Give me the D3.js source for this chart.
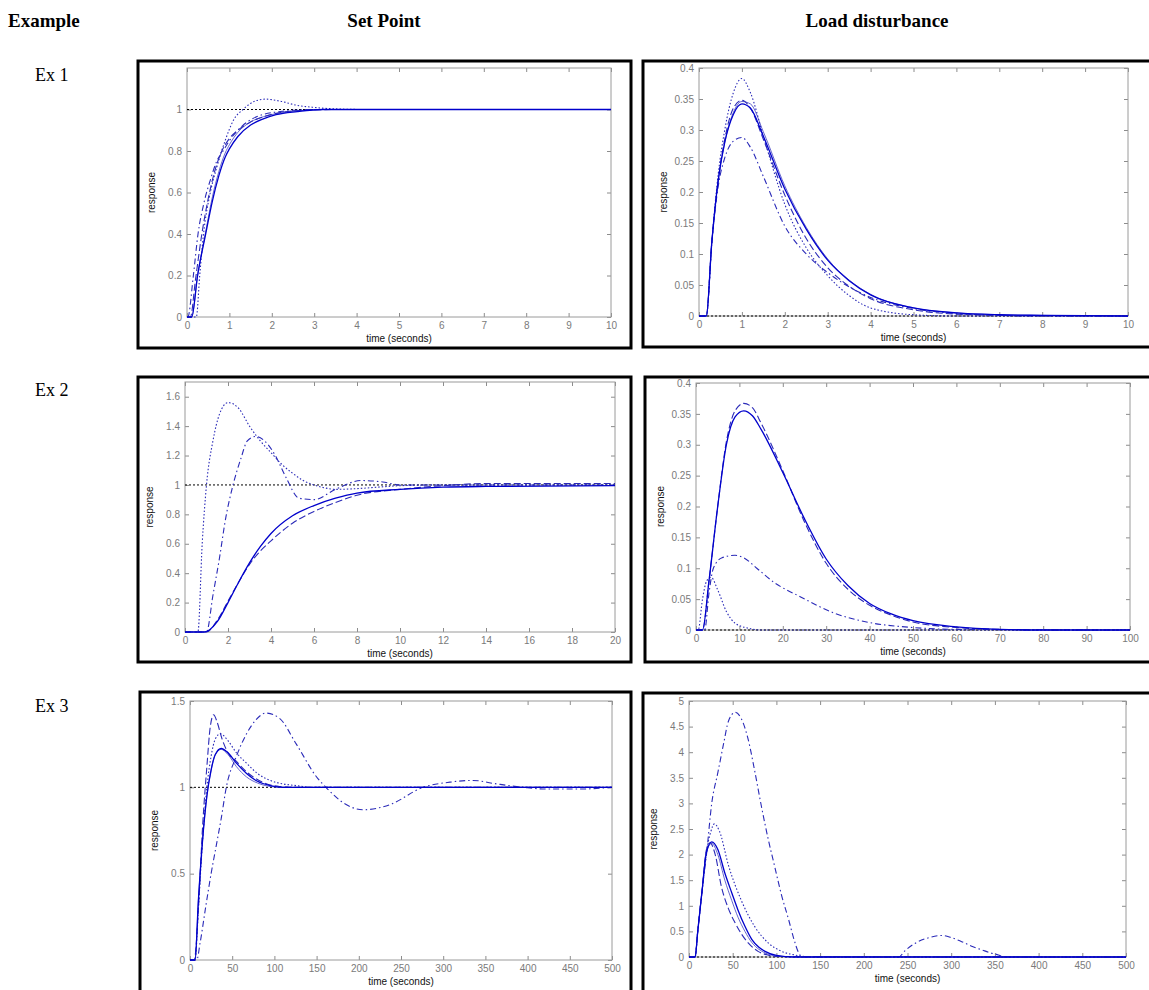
<!DOCTYPE html>
<html>
<head>
<meta charset="utf-8">
<script src="https://cdn.jsdelivr.net/npm/d3@7"></script>
<style>
  body { margin: 0; background: #fff; }
  svg { display: block; }
</style>
</head>
<body>
<div id="chart"></div>
<script>
// ---- data ----
var rowLabels = ["Ex 1", "Ex 2", "Ex 3"];
var colLabels = ["Set Point", "Load disturbance"];

// Ex 1, set point
var e1sSolidT = [0, 0.11, 0.25, 0.44, 0.6, 0.75, 0.9, 1.0, 1.2, 1.5, 1.8, 2.1, 2.6, 3.2, 4, 10];
var e1sSolidY = [0, 0, 0.2, 0.4, 0.56, 0.68, 0.77, 0.81, 0.87, 0.925, 0.955, 0.975, 0.99, 1, 1, 1];
var e1sThinY  = [0, 0, 0.2, 0.41, 0.58, 0.7, 0.79, 0.83, 0.89, 0.94, 0.965, 0.98, 0.993, 1, 1, 1];
var e1sDashT  = [0, 0.08, 0.2, 0.35, 0.5, 0.65, 0.8, 1.0, 1.2, 1.5, 1.8, 2.2, 2.8, 3.5, 10];
var e1sDashY  = [0, 0, 0.18, 0.4, 0.57, 0.7, 0.79, 0.86, 0.9, 0.94, 0.965, 0.985, 0.997, 1, 1];
var e1sDdT    = [0, 0.02, 0.15, 0.26, 0.4, 0.55, 0.7, 0.85, 1.0, 1.3, 1.64, 2.2, 3, 10];
var e1sDdY    = [0, 0, 0.2, 0.4, 0.55, 0.66, 0.75, 0.8, 0.85, 0.92, 0.965, 0.99, 1, 1];
var e1sDotT   = [0, 0.22, 0.3, 0.39, 0.55, 0.7, 0.9, 1.1, 1.32, 1.6, 1.85, 2.2, 2.6, 3, 3.5, 4.2, 10];
var e1sDotY   = [0, 0, 0.2, 0.4, 0.6, 0.72, 0.85, 0.95, 1.0, 1.04, 1.05, 1.04, 1.02, 1.01, 1.003, 1, 1];

// Ex 1, load disturbance
var e1lT      = [0, 0.17, 0.3, 0.45, 0.6, 0.8, 1.0, 1.2, 1.5, 2.0, 2.5, 3.0, 3.5, 4.0, 5, 6, 7, 8, 10];
var e1lSolidY = [0, 0, 0.12, 0.22, 0.28, 0.325, 0.342, 0.335, 0.29, 0.205, 0.14, 0.09, 0.057, 0.034, 0.013, 0.005, 0.002, 0.001, 0];
var e1lThinY  = [0, 0, 0.12, 0.22, 0.28, 0.328, 0.346, 0.342, 0.297, 0.21, 0.143, 0.092, 0.058, 0.035, 0.013, 0.005, 0.002, 0.001, 0];
var e1lDashY  = [0, 0, 0.12, 0.22, 0.285, 0.335, 0.348, 0.335, 0.285, 0.195, 0.125, 0.078, 0.048, 0.028, 0.01, 0.003, 0.001, 0, 0];
var e1lDdY    = [0, 0, 0.12, 0.21, 0.255, 0.282, 0.288, 0.272, 0.225, 0.145, 0.1, 0.07, 0.047, 0.03, 0.012, 0.004, 0.001, 0, 0];
var e1lDotY   = [0, 0, 0.12, 0.23, 0.3, 0.36, 0.383, 0.36, 0.29, 0.18, 0.11, 0.065, 0.033, 0.013, 0.002, 0, 0, 0, 0];

// Ex 2, set point
var e2sDotT   = [0, 0.6, 0.8, 1.0, 1.3, 1.6, 2.0, 2.5, 3, 3.5, 4, 4.5, 5, 5.5, 6, 6.5, 7, 8, 9, 10, 12, 20];
var e2sDotY   = [0, 0, 0.6, 1.0, 1.3, 1.48, 1.56, 1.52, 1.4, 1.3, 1.22, 1.14, 1.08, 1.03, 1.0, 0.98, 0.97, 0.975, 0.985, 0.995, 1, 1];
var e2sDdT    = [0, 1.0, 1.3, 1.6, 1.9, 2.2, 2.6, 2.9, 3.3, 3.7, 4.2, 4.7, 5.3, 6, 7, 8.2, 9.2, 10, 11, 20];
var e2sDdY    = [0, 0, 0.25, 0.5, 0.78, 0.98, 1.18, 1.3, 1.33, 1.3, 1.2, 1.05, 0.91, 0.9, 0.97, 1.03, 1.02, 1.0, 1.0, 1.0];
var e2sSolidT = [0, 0.9, 1.5, 2, 2.5, 3, 3.5, 4, 5, 6, 7, 8, 10, 12, 14, 20];
var e2sSolidY = [0, 0, 0.07, 0.2, 0.34, 0.47, 0.58, 0.67, 0.79, 0.86, 0.91, 0.945, 0.97, 0.985, 0.99, 0.995];
var e2sDashT  = [0, 1.0, 1.5, 2, 2.5, 3, 3.5, 4, 5, 6, 7, 8, 10, 12, 14, 20];
var e2sDashY  = [0, 0, 0.08, 0.21, 0.34, 0.46, 0.55, 0.62, 0.74, 0.82, 0.88, 0.93, 0.97, 0.995, 1.01, 1.01];

// Ex 2, load disturbance
var e2lT      = [0, 1.5, 3, 5, 7, 9, 11, 13, 15, 20, 25, 30, 35, 40, 45, 50, 60, 70, 80, 100];
var e2lSolidY = [0, 0, 0.08, 0.2, 0.3, 0.345, 0.355, 0.347, 0.325, 0.255, 0.18, 0.115, 0.072, 0.043, 0.026, 0.015, 0.005, 0.001, 0, 0];
var e2lDashY  = [0, 0, 0.08, 0.2, 0.305, 0.355, 0.367, 0.36, 0.335, 0.258, 0.175, 0.108, 0.066, 0.04, 0.024, 0.013, 0.004, 0.001, 0, 0];
var e2lDdT    = [0, 2, 3, 4, 6, 9, 11, 14, 18, 24, 32, 40, 50, 60, 100];
var e2lDdY    = [0, 0, 0.06, 0.1, 0.117, 0.121, 0.117, 0.1, 0.077, 0.054, 0.027, 0.012, 0.004, 0.001, 0];
var e2lDotT   = [0, 0.5, 1.5, 2.5, 3.5, 5, 7, 9, 12, 15, 100];
var e2lDotY   = [0, 0, 0.05, 0.08, 0.085, 0.065, 0.03, 0.011, 0.003, 0, 0];

// Ex 3, set point
var e3sDashT  = [0, 5, 10, 15, 20, 24, 28, 32, 38, 45, 55, 67, 86, 106, 130, 500];
var e3sDashY  = [0, 0, 0.3, 0.78, 1.12, 1.35, 1.42, 1.38, 1.28, 1.2, 1.15, 1.09, 1.03, 1.005, 1, 1];
var e3sSolidT = [0, 6, 10, 15, 20, 25, 30, 37, 45, 55, 67, 80, 95, 110, 130, 500];
var e3sSolidY = [0, 0, 0.35, 0.7, 0.95, 1.1, 1.19, 1.225, 1.2, 1.14, 1.08, 1.035, 1.01, 1.0, 1, 1];
var e3sThinY  = [0, 0, 0.35, 0.7, 0.95, 1.1, 1.19, 1.22, 1.19, 1.12, 1.06, 1.025, 1.005, 1.0, 1, 1];
var e3sDotT   = [0, 6, 10, 15, 20, 25, 30, 36, 45, 55, 67, 80, 95, 110, 126, 145, 500];
var e3sDotY   = [0, 0, 0.3, 0.7, 1.0, 1.18, 1.28, 1.31, 1.27, 1.2, 1.14, 1.08, 1.04, 1.02, 1.01, 1.0, 1];
var e3sDdT    = [0, 8, 12, 19, 25, 31, 37, 43, 55, 67, 78, 90, 106, 126, 150, 163, 185, 205, 237, 276, 308, 335, 363, 395, 422, 461, 500];
var e3sDdY    = [0, 0, 0.1, 0.32, 0.5, 0.66, 0.82, 1.0, 1.18, 1.31, 1.39, 1.43, 1.4, 1.25, 1.06, 0.99, 0.9, 0.87, 0.9, 1.0, 1.03, 1.04, 1.02, 1.0, 0.99, 0.99, 1.0];

// Ex 3, load disturbance
var e3lDdT    = [0, 7, 10, 15, 20, 26, 33, 40, 45, 53, 60, 68, 75, 83, 90, 98, 106, 114, 120, 125, 130, 240, 247, 259, 275, 289, 300, 312, 325, 335, 345, 354, 360, 500];
var e3lDdY    = [0, 0, 0.5, 1.3, 2.0, 3.0, 3.6, 4.2, 4.6, 4.78, 4.65, 4.23, 3.65, 2.93, 2.35, 1.77, 1.2, 0.73, 0.35, 0.1, 0, 0, 0.12, 0.27, 0.38, 0.42, 0.38, 0.3, 0.2, 0.14, 0.08, 0.04, 0, 0];
var e3lDotT   = [0, 7, 10, 15, 20, 25, 29, 35, 45, 60, 75, 91, 106, 121, 140, 500];
var e3lDotY   = [0, 0, 0.5, 1.3, 2.05, 2.45, 2.6, 2.45, 1.8, 1.1, 0.6, 0.27, 0.11, 0.04, 0, 0];
var e3lSolidT = [0, 7, 10, 15, 20, 26, 33, 41, 49, 56, 64, 72, 80, 87, 100, 120, 500];
var e3lSolidY = [0, 0, 0.5, 1.3, 2.05, 2.25, 2.1, 1.64, 1.25, 0.92, 0.6, 0.34, 0.19, 0.11, 0.03, 0, 0];
var e3lThinY  = [0, 0, 0.5, 1.3, 2.05, 2.22, 2.0, 1.5, 1.1, 0.78, 0.5, 0.28, 0.15, 0.08, 0.02, 0, 0];
var e3lDashT  = [0, 7, 10, 15, 20, 24, 30, 37, 45, 53, 60, 68, 79, 90, 100, 500];
var e3lDashY  = [0, 0, 0.5, 1.3, 2.1, 2.23, 2.0, 1.38, 0.95, 0.66, 0.45, 0.27, 0.11, 0.04, 0.01, 0];

// tick values
var ticks0to10 = d3.range(0, 11, 1);
var ticks0to20 = d3.range(0, 21, 2);
var ticks0to100 = d3.range(0, 101, 10);
var ticks0to500 = d3.range(0, 501, 50);
var yTicksSp1 = [0, 0.2, 0.4, 0.6, 0.8, 1];
var yTicksSp2 = [0, 0.2, 0.4, 0.6, 0.8, 1, 1.2, 1.4, 1.6];
var yTicksSp3 = [0, 0.5, 1, 1.5];
var yTicksLd12 = [0, 0.05, 0.1, 0.15, 0.2, 0.25, 0.3, 0.35, 0.4];
var yTicksLd3 = [0, 0.5, 1, 1.5, 2, 2.5, 3, 3.5, 4, 4.5, 5];

// ---- line styles ----
var styles = {
  solid:   { color: "#0000cc", width: 1.3, dash: null },
  thin:    { color: "#5555c8", width: 0.9, dash: null },
  dashed:  { color: "#2a2ab8", width: 1.1, dash: "7,3" },
  dashdot: { color: "#2a2ab8", width: 1.1, dash: "6,3,1.5,3" },
  dotted:  { color: "#2a2ab8", width: 1.1, dash: "1.5,2" }
};

function zip(t, y) {
  return t.map(function(d, i) { return [d, y[i]]; });
}

// ---- panel layout ----
var panels = [
  { frame: [138, 61, 631, 348], plot: [187, 68, 611, 317], xMax: 10, yMax: 1.2, xTicks: ticks0to10, yTicks: yTicksSp1, ref: 1,
    series: [["thin", zip(e1sSolidT, e1sThinY)], ["dashed", zip(e1sDashT, e1sDashY)], ["dashdot", zip(e1sDdT, e1sDdY)],
             ["dotted", zip(e1sDotT, e1sDotY)], ["solid", zip(e1sSolidT, e1sSolidY)]] },
  { frame: [643, 61, 1153, 347], plot: [699, 68, 1128, 316], xMax: 10, yMax: 0.4, xTicks: ticks0to10, yTicks: yTicksLd12, ref: 0,
    series: [["thin", zip(e1lT, e1lThinY)], ["dashed", zip(e1lT, e1lDashY)], ["dashdot", zip(e1lT, e1lDdY)],
             ["dotted", zip(e1lT, e1lDotY)], ["solid", zip(e1lT, e1lSolidY)]] },
  { frame: [138, 377, 631, 662], plot: [185, 382, 615, 632], xMax: 20, yMax: 1.7, xTicks: ticks0to20, yTicks: yTicksSp2, ref: 1,
    series: [["dashed", zip(e2sDashT, e2sDashY)], ["dashdot", zip(e2sDdT, e2sDdY)],
             ["dotted", zip(e2sDotT, e2sDotY)], ["solid", zip(e2sSolidT, e2sSolidY)]] },
  { frame: [645, 377, 1153, 662], plot: [696, 383, 1130, 630], xMax: 100, yMax: 0.4, xTicks: ticks0to100, yTicks: yTicksLd12, ref: 0,
    series: [["dashed", zip(e2lT, e2lDashY)], ["dashdot", zip(e2lDdT, e2lDdY)],
             ["dotted", zip(e2lDotT, e2lDotY)], ["solid", zip(e2lT, e2lSolidY)]] },
  { frame: [140, 692, 631, 1000], plot: [190, 701, 612, 960], xMax: 500, yMax: 1.5, xTicks: ticks0to500, yTicks: yTicksSp3, ref: 1,
    series: [["thin", zip(e3sSolidT, e3sThinY)], ["dashed", zip(e3sDashT, e3sDashY)], ["dashdot", zip(e3sDdT, e3sDdY)],
             ["dotted", zip(e3sDotT, e3sDotY)], ["solid", zip(e3sSolidT, e3sSolidY)]] },
  { frame: [643, 693, 1153, 1000], plot: [689, 701, 1126, 957], xMax: 500, yMax: 5, xTicks: ticks0to500, yTicks: yTicksLd3, ref: 0,
    series: [["thin", zip(e3lSolidT, e3lThinY)], ["dashed", zip(e3lDashT, e3lDashY)], ["dashdot", zip(e3lDdT, e3lDdY)],
             ["dotted", zip(e3lDotT, e3lDotY)], ["solid", zip(e3lSolidT, e3lSolidY)]] }
];

var svg = d3.select("#chart").append("svg")
  .attr("width", 1149)
  .attr("height", 990);

// headings
var serif = "'Liberation Serif', 'Times New Roman', serif";
svg.append("text").attr("x", 8).attr("y", 27)
  .attr("font-family", serif).attr("font-weight", "bold").attr("font-size", 19)
  .text("Example");
svg.selectAll(".colLabel").data(colLabels).enter().append("text")
  .attr("class", "colLabel")
  .attr("x", function(d, i) { return i === 0 ? 384 : 877; })
  .attr("y", 27)
  .attr("text-anchor", "middle")
  .attr("font-family", serif).attr("font-weight", "bold").attr("font-size", 19)
  .text(function(d) { return d; });
svg.selectAll(".rowLabel").data(rowLabels).enter().append("text")
  .attr("class", "rowLabel")
  .attr("x", 35)
  .attr("y", function(d, i) { return [81, 396, 712][i]; })
  .attr("font-family", serif).attr("font-size", 18)
  .text(function(d) { return d; });

var sans = "'Liberation Sans', Arial, sans-serif";
var fmt = function(d) { return String(+d.toFixed(2)); };

panels.forEach(function(p) {
  // black frame around each picture
  svg.append("rect")
    .attr("x", p.frame[0]).attr("y", p.frame[1])
    .attr("width", p.frame[2] - p.frame[0]).attr("height", p.frame[3] - p.frame[1])
    .attr("fill", "none").attr("stroke", "#000").attr("stroke-width", 3);

  var x = d3.scaleLinear().domain([0, p.xMax]).range([p.plot[0], p.plot[2]]);
  var y = d3.scaleLinear().domain([0, p.yMax]).range([p.plot[3], p.plot[1]]);

  var g = svg.append("g");

  // axes, ticks pointing inwards like matlab
  var axes = [
    [d3.axisBottom(x).tickValues(p.xTicks).tickFormat(fmt), "translate(0," + p.plot[3] + ")", true],
    [d3.axisTop(x).tickValues(p.xTicks).tickFormat(""), "translate(0," + p.plot[1] + ")", false],
    [d3.axisLeft(y).tickValues(p.yTicks).tickFormat(fmt), "translate(" + p.plot[0] + ",0)", true],
    [d3.axisRight(y).tickValues(p.yTicks).tickFormat(""), "translate(" + p.plot[2] + ",0)", false]
  ];
  axes.forEach(function(a) {
    var ax = g.append("g").attr("transform", a[1])
      .call(a[0].tickSize(-4).tickPadding(a[2] ? 5 : 0));
    ax.select(".domain").remove();
    ax.selectAll("line").attr("stroke", "#8c8c8c");
    ax.selectAll("text").attr("fill", "#7a7a7a").attr("font-family", sans).attr("font-size", 10);
  });

  g.append("rect")
    .attr("x", p.plot[0]).attr("y", p.plot[1])
    .attr("width", p.plot[2] - p.plot[0]).attr("height", p.plot[3] - p.plot[1])
    .attr("fill", "none").attr("stroke", "#9a9a9a").attr("stroke-width", 1);

  // reference line
  g.append("line")
    .attr("x1", x(0)).attr("x2", x(p.xMax))
    .attr("y1", y(p.ref)).attr("y2", y(p.ref))
    .attr("stroke", "#000").attr("stroke-width", 1).attr("stroke-dasharray", "2,2");

  var line = d3.line()
    .x(function(d) { return x(d[0]); })
    .y(function(d) { return y(d[1]); })
    .curve(d3.curveMonotoneX);

  p.series.forEach(function(s) {
    var st = styles[s[0]];
    g.append("path")
      .datum(s[1])
      .attr("d", line)
      .attr("fill", "none")
      .attr("stroke", st.color)
      .attr("stroke-width", st.width)
      .attr("stroke-dasharray", st.dash);
  });

  // axis labels
  g.append("text")
    .attr("x", (p.plot[0] + p.plot[2]) / 2)
    .attr("y", p.plot[3] + 25)
    .attr("text-anchor", "middle")
    .attr("font-family", sans).attr("font-size", 10).attr("fill", "#111")
    .text("time (seconds)");
  g.append("text")
    .attr("transform", "translate(" + (p.plot[0] - 32) + "," + ((p.plot[1] + p.plot[3]) / 2) + ") rotate(-90)")
    .attr("text-anchor", "middle")
    .attr("font-family", sans).attr("font-size", 10).attr("fill", "#111")
    .text("response");
});
</script>
</body>
</html>
